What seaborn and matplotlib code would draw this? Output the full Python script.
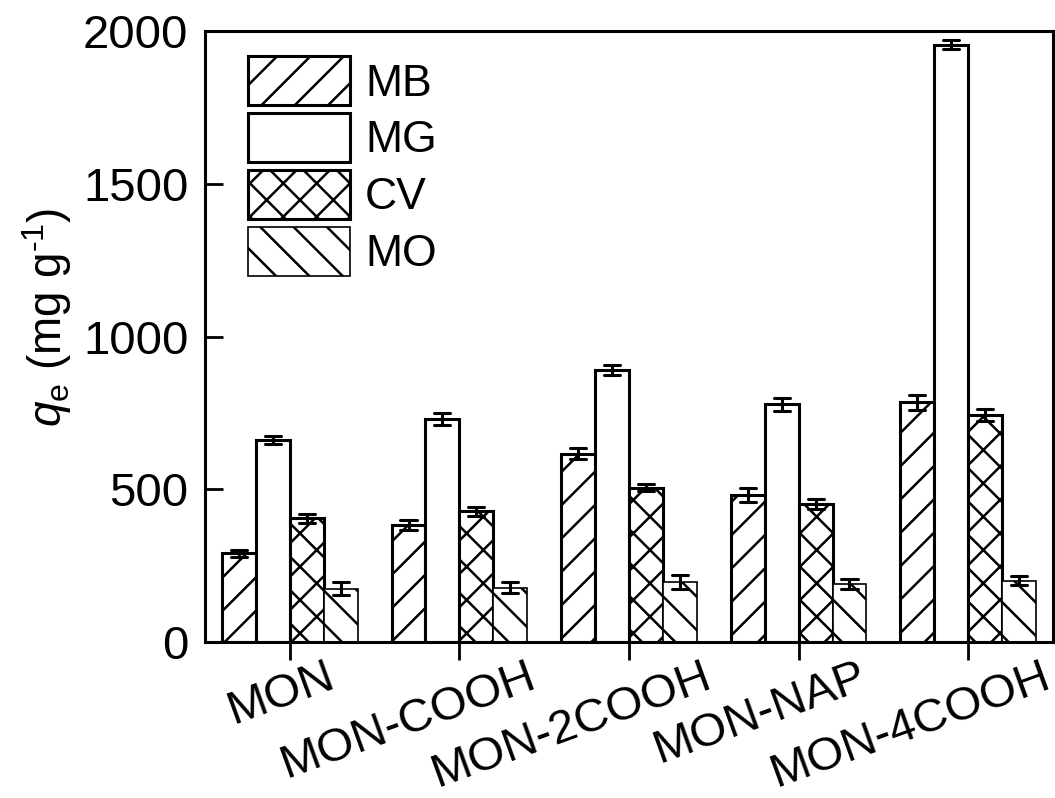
import numpy as np
import pandas as pd
import matplotlib
matplotlib.use("Agg")
import matplotlib.pyplot as plt
import matplotlib.transforms as mtransforms
import seaborn as sns

categories = ["MON", "MON-COOH", "MON-2COOH", "MON-NAP", "MON-4COOH"]
dyes = ["MB", "MG", "CV", "MO"]
mb = [290, 383, 617, 480, 785]
mg = [660, 730, 890, 778, 1955]
cv = [405, 428, 505, 452, 742]
mo = [175, 178, 195, 190, 200]
mb_err = [11, 15, 17, 23, 24]
mg_err = [13, 21, 17, 21, 15]
cv_err = [14, 15, 12, 17, 20]
mo_err = [20, 18, 23, 16, 15]
yticks = [0, 500, 1000, 1500, 2000]

values = {"MB": mb, "MG": mg, "CV": cv, "MO": mo}
errors = {"MB": mb_err, "MG": mg_err, "CV": cv_err, "MO": mo_err}
rows = []
for d in dyes:
    for c, v, e in zip(categories, values[d], errors[d]):
        rows.append({"cat": c, "dye": d, "q": v - e})
        rows.append({"cat": c, "dye": d, "q": v + e})
df = pd.DataFrame(rows)

sns.set_theme(style="ticks")
plt.rcParams["font.family"] = ["Liberation Sans", "DejaVu Sans"]
plt.rcParams["hatch.linewidth"] = 1.8
plt.rcParams["mathtext.fontset"] = "custom"
plt.rcParams["mathtext.rm"] = "Liberation Sans"
plt.rcParams["mathtext.it"] = "Liberation Sans:italic"
for k in ["text.color", "axes.labelcolor", "xtick.color", "ytick.color", "axes.edgecolor"]:
    plt.rcParams[k] = "black"

fig = plt.figure(figsize=(10.55, 7.98), dpi=100)
ax = fig.add_axes([205 / 1055, 1 - 642 / 798, (1053 - 205) / 1055, (642 - 31) / 798])

sns.barplot(data=df, x="cat", y="q", hue="dye", order=categories, hue_order=dyes,
            palette=["white"] * 4, errorbar=lambda x: (x.min(), x.max()),
            capsize=0.38, err_kws={"linewidth": 2.2, "color": "black"},
            edgecolor="black", linewidth=2.2, saturation=1, legend=False, ax=ax)

hatches = ["/", "", "x", "\\"]
for cont, h, d in zip(ax.containers, hatches, dyes):
    for p in cont:
        p.set_hatch(h)
        p.set_facecolor("white")
        if d == "MO":
            p.set_linewidth(1.2)

leg = ax.legend(ax.containers, dyes, loc="upper left", bbox_to_anchor=(0.03, 0.988),
                frameon=False, fontsize=32, handlelength=2.3, handleheight=1.33,
                labelspacing=0.17, handletextpad=0.33, borderaxespad=0)

ax.set_ylim(0, 2000)
ax.set_xlim(-0.5, 4.5)
ax.set_yticks(yticks)
ax.set_yticklabels([str(t) for t in yticks], fontsize=34)
ax.set_xlabel("")
ax.set_ylabel(r"$q_{\mathrm{e}}$ (mg g$^{\text{-}1}$)", fontsize=33)
ax.yaxis.set_label_coords(-0.155, 0.532)

ax.tick_params(axis="y", direction="in", length=13, width=2, pad=12)
ax.tick_params(axis="x", direction="out", length=13, width=2, pad=2)
for s in ax.spines.values():
    s.set_visible(True)
    s.set_linewidth(2.2)
    s.set_color("black")

fig.canvas.draw()
renderer = fig.canvas.get_renderer()
for lab in ax.get_xticklabels():
    lab.set_fontsize(34)
    lab.set_rotation(0)
    w = lab.get_window_extent(renderer).width
    shift = 35 + 0.2 * (w - 107)
    lab.set_rotation(20)
    lab.set_ha("right")
    lab.set_va("top")
    lab.set_rotation_mode("anchor")
    offset = mtransforms.ScaledTranslation(shift / 100, 8 / 100, fig.dpi_scale_trans)
    lab.set_transform(lab.get_transform() + offset)

fig.savefig("out.png", dpi=100)
